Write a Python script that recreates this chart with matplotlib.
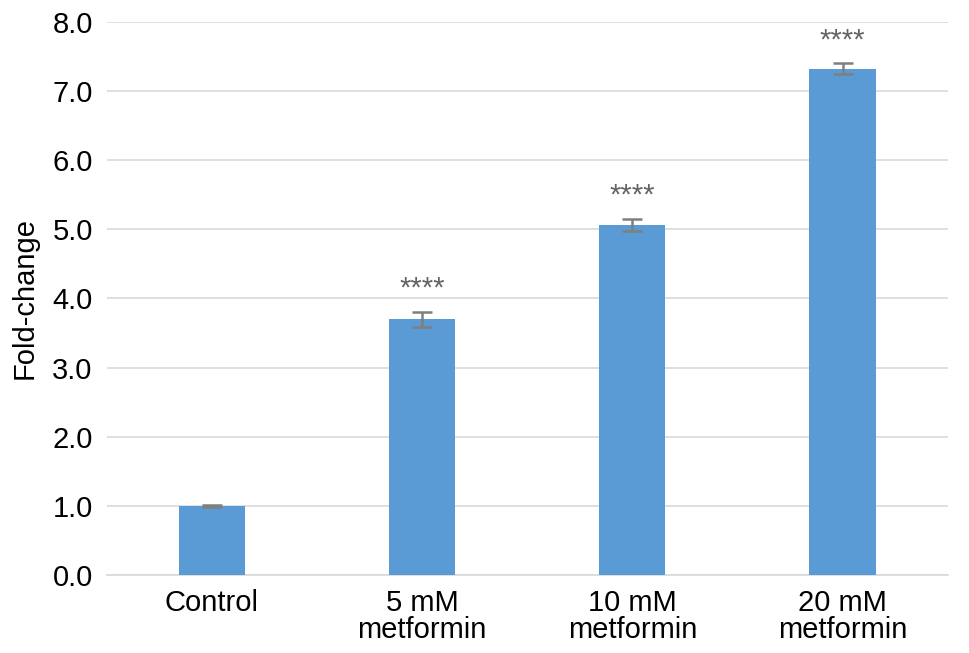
import numpy as np
import matplotlib
matplotlib.use("Agg")
import matplotlib.pyplot as plt

plt.rcParams['font.family'] = ['Liberation Sans', 'DejaVu Sans']

categories = ['Control', '5 mM\nmetformin', '10 mM\nmetformin', '20 mM\nmetformin']
fold_change = [1.0, 3.70, 5.06, 7.32]
errors = [0.02, 0.11, 0.09, 0.08]
stars = ['', '****', '****', '****']

fig = plt.figure(figsize=(9.69, 6.53), dpi=100)
ax = fig.add_axes([0.110, 0.119, 0.868, 0.848])

x = np.arange(len(categories))
ax.bar(x, fold_change, width=0.315, color='#5b9bd5', zorder=3)
ax.errorbar(x, fold_change, yerr=errors, fmt='none', ecolor='#7f7f7f',
            elinewidth=1.8, capsize=7, capthick=1.8, zorder=4)

for xi, v, e, s in zip(x, fold_change, errors, stars):
    if s:
        ax.text(xi, v + e + 0.13, s, ha='center', va='bottom',
                fontsize=21, color='#636363')

ax.set_xlim(-0.5, 3.5)
ax.set_ylim(0, 8)
ax.set_yticks(np.arange(0, 8.1, 1.0))
ax.set_yticklabels([f'{t:.1f}' for t in np.arange(0, 8.1, 1.0)])
ax.set_xticks(x)
ax.set_xticklabels(categories, linespacing=0.95)
ax.tick_params(axis='both', length=0, labelsize=21, colors='black')
ax.tick_params(axis='y', pad=10)
ax.tick_params(axis='x', pad=10)

ax.grid(axis='y', color='#d9d9d9', linewidth=1.2, zorder=0)
for side in ['top', 'right', 'left']:
    ax.spines[side].set_visible(False)
ax.spines['bottom'].set_color('#d9d9d9')
ax.spines['bottom'].set_linewidth(1.2)

ax.set_ylabel('Fold-change', fontsize=21, labelpad=10)

fig.savefig('out.png', dpi=100)
